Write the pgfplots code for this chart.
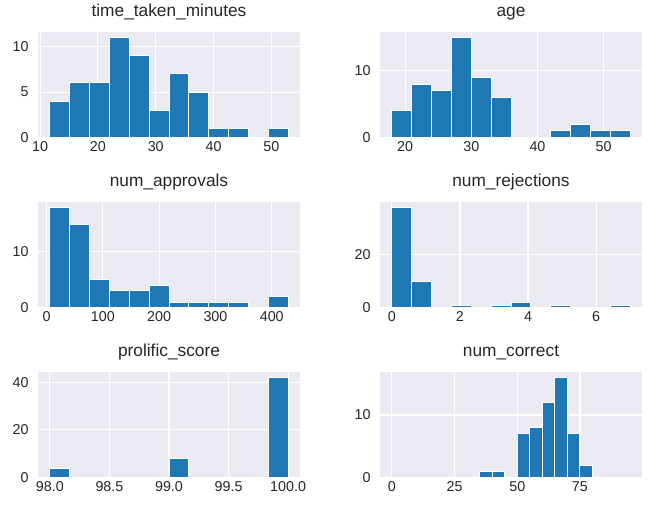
\documentclass[border=0pt]{standalone}
\usepackage{pgfplots}
\pgfplotsset{compat=1.18}
\usepackage{fontspec}
\setmainfont{Liberation Sans}

\definecolor{sbbg}{HTML}{EAEAF2}
\definecolor{sbtext}{HTML}{262626}
\definecolor{tabblue}{HTML}{1F77B4}

\pgfplotsset{
  histpanel/.style={
    scale only axis, width=262pt, height=105.4pt,
    anchor=south west,
    axis background/.style={fill=sbbg},
    axis line style={draw=none},
    major tick length=0pt,
    grid=major,
    grid style={white, line width=1.1pt},
    ymin=0,
    tick label style={font=\fontsize{14.3}{16}\selectfont, text=sbtext},
    /pgf/number format/assume math mode=true,
    yticklabel style={xshift=-6pt},
    title style={font=\fontsize{17.3}{20}\selectfont, text=sbtext,
      at={(0.5,1)}, anchor=base, yshift=9.3pt},
  },
  histbar/.style={ybar interval, fill=tabblue, draw=white, line width=1pt},
}

\begin{document}
\begin{tikzpicture}
\path[use as bounding box] (0,0) rectangle (654pt,513pt);

% --- row 1 ---
\begin{axis}[histpanel, at={(38pt,375.3pt)},
  title={time\_taken\_minutes},
  xmin=9.64, xmax=54.96, ymax=11.55,
  xtick={10,20,30,40,50}, ytick={0,5,10}]
  \addplot[histbar] coordinates {
    (11.7,4) (15.133,6) (18.567,6) (22.0,11) (25.433,9) (28.867,3)
    (32.3,7) (35.733,5) (39.167,1) (42.6,1) (46.033,0) (49.467,1) (52.9,1)
  };
\end{axis}

\begin{axis}[histpanel, at={(380pt,375.3pt)},
  title={age},
  xmin=16.2, xmax=55.8, ymax=15.75,
  xtick={20,30,40,50}, ytick={0,10}]
  \addplot[histbar] coordinates {
    (18,4) (21,8) (24,7) (27,15) (30,9) (33,6)
    (36,0) (39,0) (42,1) (45,2) (48,1) (51,1) (54,1)
  };
\end{axis}

% --- row 2 ---
\begin{axis}[histpanel, at={(38pt,205.3pt)},
  title={num\_approvals},
  xmin=-15.15, xmax=450.15, ymax=18.9,
  xtick={0,100,200,300,400}, ytick={0,10}]
  \addplot[histbar] coordinates {
    (6,18) (41.25,15) (76.5,5) (111.75,3) (147,3) (182.25,4)
    (217.5,1) (252.75,1) (288,1) (323.25,1) (358.5,0) (393.75,2) (429,2)
  };
\end{axis}

\begin{axis}[histpanel, at={(380pt,205.3pt)},
  title={num\_rejections},
  xmin=-0.35, xmax=7.35, ymax=39.9,
  xtick={0,2,4,6}, ytick={0,20}]
  \addplot[histbar] coordinates {
    (0,38) (0.5833,10) (1.1667,0) (1.75,1) (2.3333,0) (2.9167,1)
    (3.5,2) (4.0833,0) (4.6667,1) (5.25,0) (5.8333,0) (6.4167,1) (7,1)
  };
\end{axis}

% --- row 3 ---
\begin{axis}[histpanel, at={(38pt,35.3pt)},
  title={prolific\_score},
  xmin=97.9, xmax=100.1, ymax=44.1,
  xtick={98,98.5,99,99.5,100},
  xticklabels={98.0,98.5,99.0,99.5,100.0},
  ytick={0,20,40}]
  \addplot[histbar] coordinates {
    (98,4) (98.1667,0) (98.3333,0) (98.5,0) (98.6667,0) (98.8333,0)
    (99,8) (99.1667,0) (99.3333,0) (99.5,0) (99.6667,0) (99.8333,42) (100,42)
  };
\end{axis}

\begin{axis}[histpanel, at={(380pt,35.3pt)},
  title={num\_correct},
  xmin=-4.75, xmax=99.75, ymax=16.8,
  xtick={0,25,50,75}, ytick={0,10}]
  \addplot[histbar] coordinates {
    (0,0) (5,0) (10,0) (15,0) (20,0) (25,0) (30,0) (35,1) (40,1) (45,0)
    (50,7) (55,8) (60,12) (65,16) (70,7) (75,2) (80,0) (85,0) (90,0) (95,0)
  };
\end{axis}
\end{tikzpicture}
\end{document}
